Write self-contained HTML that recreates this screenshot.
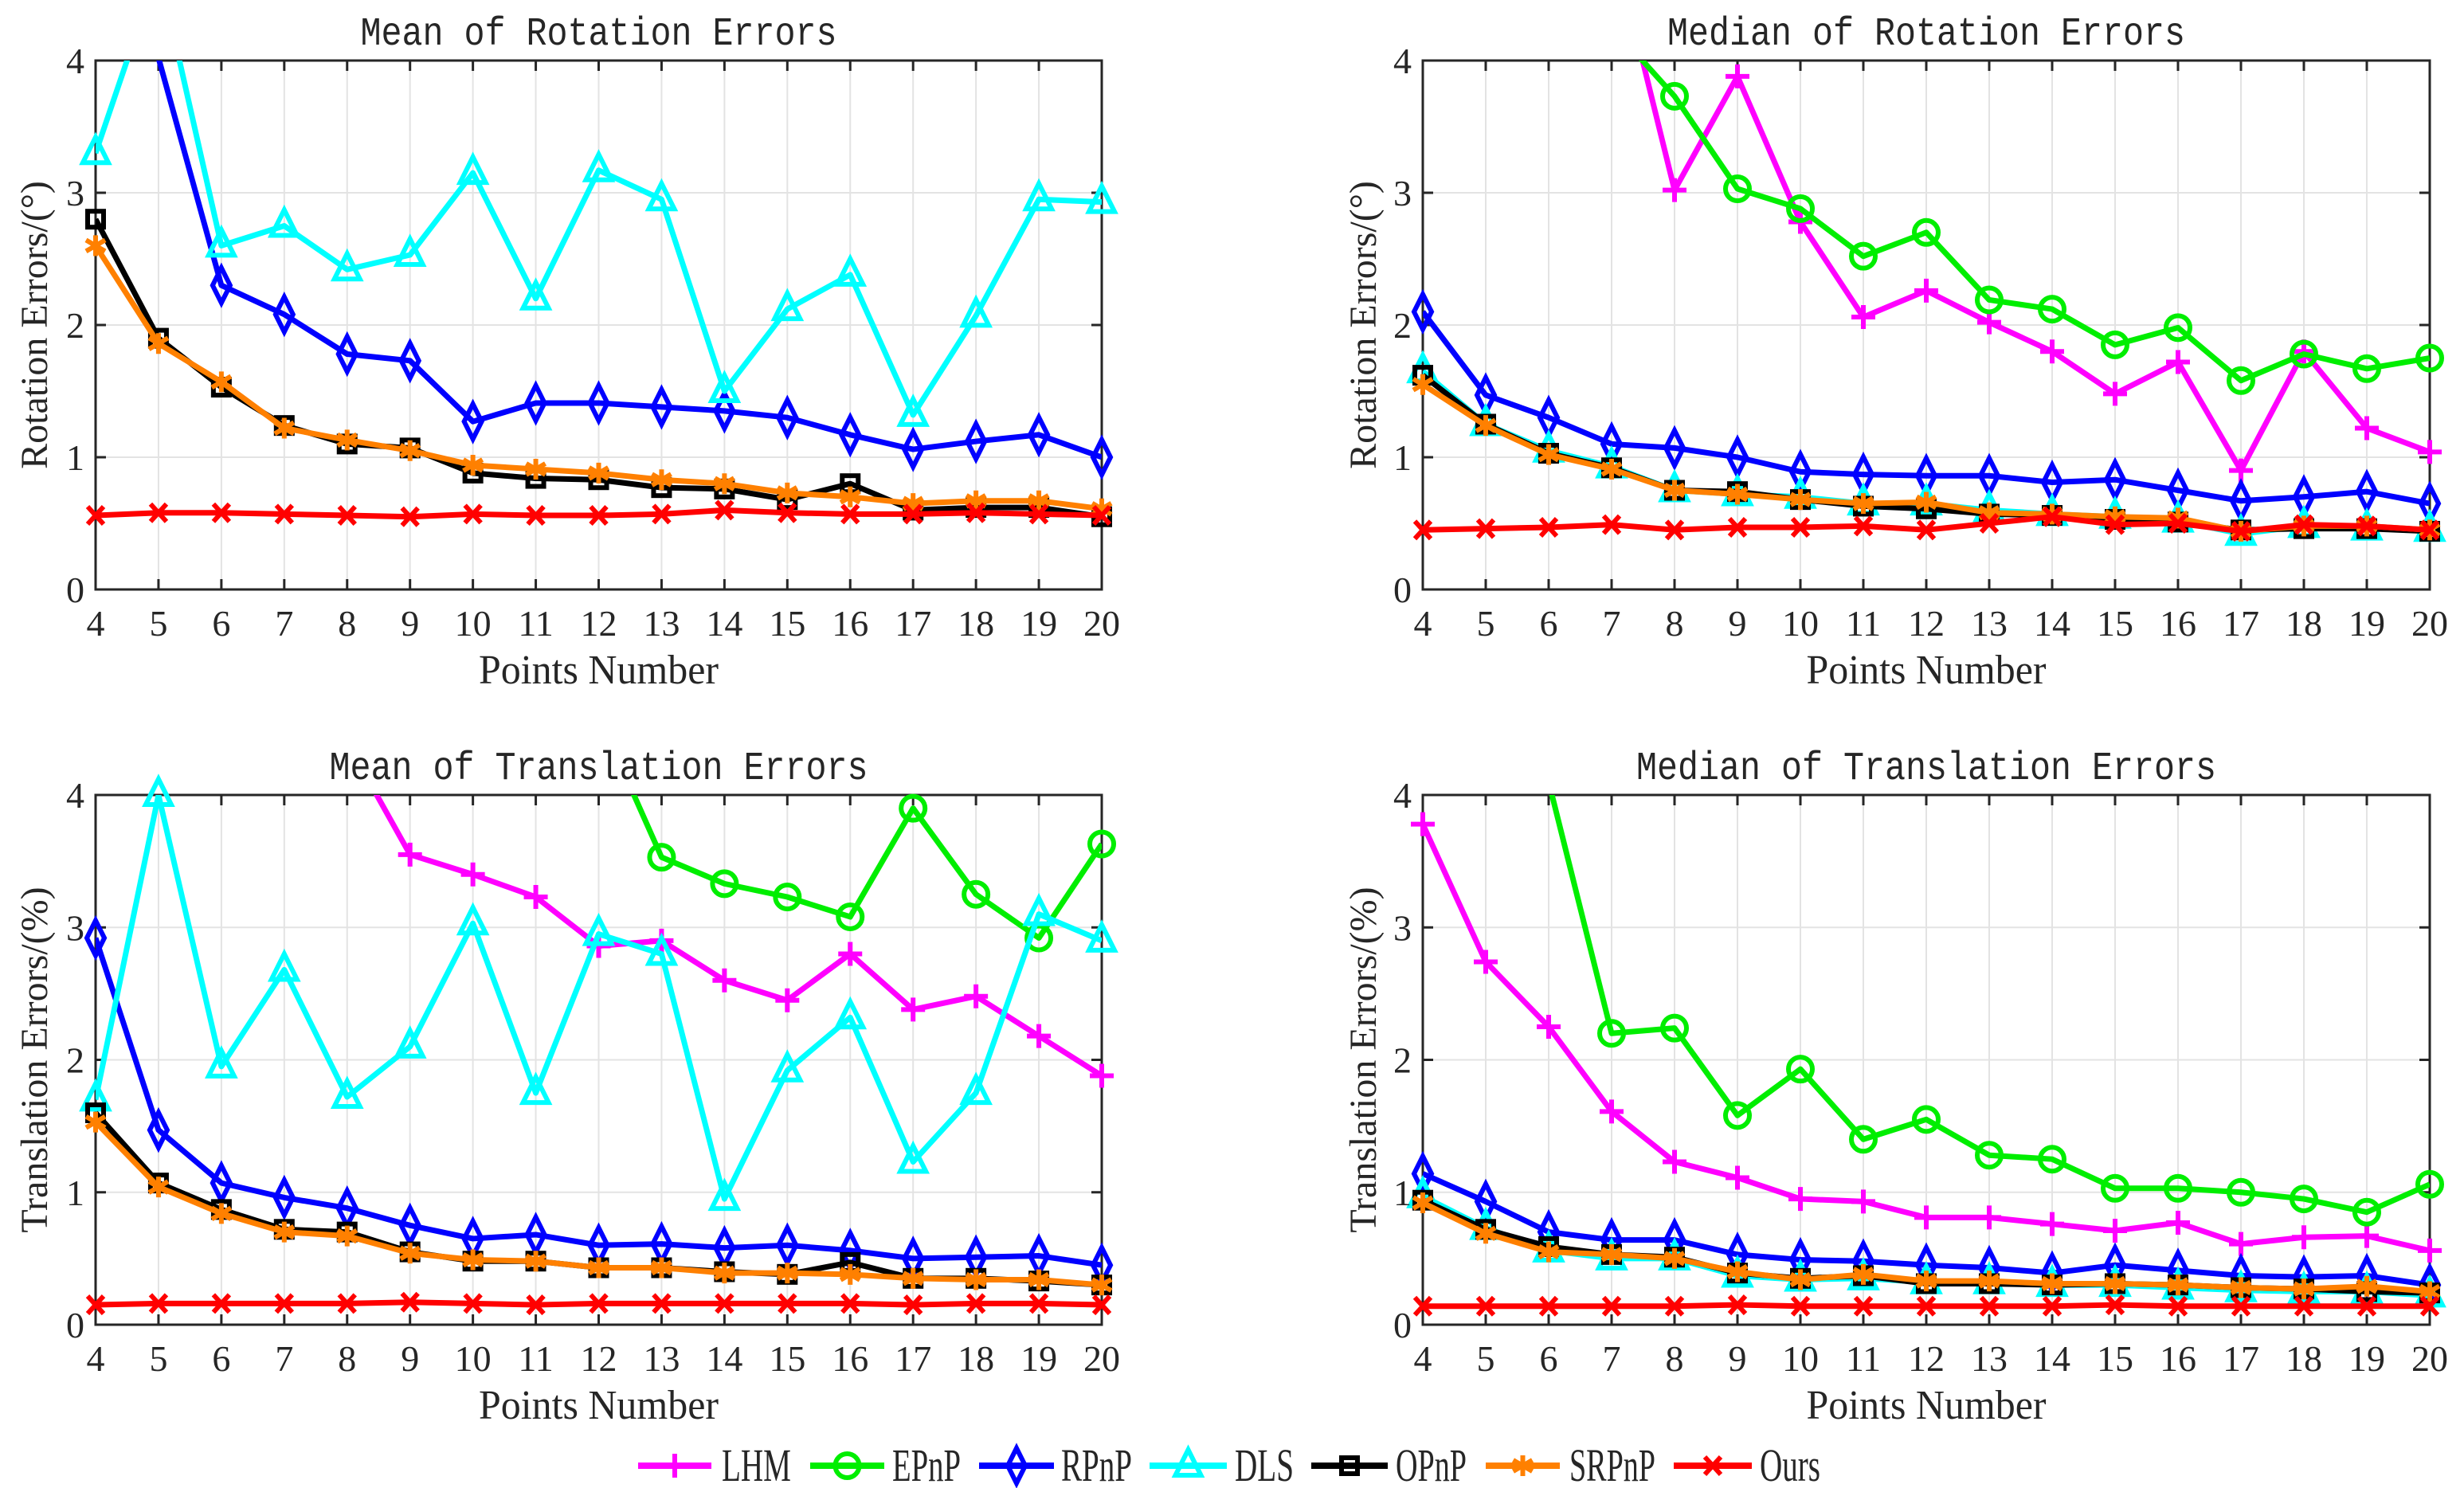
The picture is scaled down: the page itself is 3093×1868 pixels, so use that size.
<!DOCTYPE html>
<html><head><meta charset="utf-8"><title>PnP error plots</title>
<style>html,body{margin:0;padding:0;background:#fff}svg{display:block}
text{font-family:"Liberation Serif",serif;fill:#262626}</style></head>
<body>
<svg id="fig" width="3093" height="1868" viewBox="0 0 3093 1868" xmlns="http://www.w3.org/2000/svg"></svg>
<script>
const xCats=[4,5,6,7,8,9,10,11,12,13,14,15,16,17,18,19,20];
const yTicks=[0,1,2,3,4];
const methods=["LHM","EPnP","RPnP","DLS","OPnP","SRPnP","Ours"];
// Mean of rotation errors
const meanRot_LHM=[10,10,10,10,10,10,10,10,10,10,10,10,10,10,10,10,10];
const meanRot_EPnP=[10,10,10,10,10,10,10,10,10,10,10,10,10,10,10,10,10];
const meanRot_RPnP=[8,4.02,2.3,2.08,1.78,1.73,1.27,1.41,1.41,1.38,1.35,1.3,1.17,1.06,1.12,1.17,1.0];
const meanRot_DLS=[3.3,4.7,2.6,2.75,2.42,2.53,3.15,2.2,3.17,2.95,1.5,2.12,2.38,1.32,2.07,2.95,2.93];
const meanRot_OPnP=[2.8,1.9,1.53,1.24,1.1,1.07,0.88,0.84,0.83,0.77,0.76,0.68,0.8,0.6,0.62,0.62,0.55];
const meanRot_SRPnP=[2.6,1.86,1.57,1.22,1.13,1.05,0.94,0.91,0.88,0.83,0.8,0.73,0.7,0.65,0.67,0.67,0.61];
const meanRot_Ours=[0.56,0.58,0.58,0.57,0.56,0.55,0.57,0.56,0.56,0.57,0.6,0.58,0.57,0.57,0.58,0.57,0.56];
// Median of rotation errors
const medRot_LHM=[10,10,10,4.95,3.02,3.88,2.78,2.06,2.26,2.02,1.8,1.48,1.72,0.9,1.8,1.22,1.04];
const medRot_EPnP=[10,10,10,4.26,3.73,3.03,2.88,2.52,2.7,2.19,2.12,1.85,1.98,1.58,1.78,1.67,1.75];
const medRot_RPnP=[2.1,1.47,1.3,1.1,1.07,1.0,0.89,0.87,0.86,0.86,0.81,0.83,0.75,0.67,0.7,0.74,0.65];
const medRot_DLS=[1.65,1.25,1.05,0.93,0.75,0.72,0.7,0.65,0.65,0.6,0.57,0.55,0.52,0.42,0.48,0.46,0.45];
const medRot_OPnP=[1.62,1.25,1.03,0.92,0.75,0.74,0.68,0.63,0.61,0.57,0.56,0.53,0.51,0.45,0.46,0.46,0.44];
const medRot_SRPnP=[1.55,1.24,1.02,0.91,0.75,0.72,0.68,0.65,0.66,0.58,0.57,0.55,0.54,0.44,0.48,0.48,0.45];
const medRot_Ours=[0.45,0.46,0.47,0.49,0.45,0.47,0.47,0.48,0.45,0.5,0.55,0.49,0.5,0.44,0.49,0.48,0.45];
// Mean of translation errors
const meanTr_LHM=[10,10,10,10,4.4,3.55,3.4,3.23,2.86,2.9,2.6,2.45,2.8,2.38,2.48,2.18,1.88];
const meanTr_EPnP=[10,10,10,10,10,10,10,10,4.6,3.53,3.33,3.23,3.08,3.9,3.25,2.92,3.63];
const meanTr_RPnP=[2.92,1.47,1.07,0.96,0.88,0.75,0.65,0.68,0.6,0.61,0.58,0.6,0.56,0.5,0.51,0.52,0.45];
const meanTr_DLS=[1.7,4.0,1.95,2.68,1.72,2.1,3.03,1.75,2.95,2.8,0.95,1.92,2.32,1.23,1.75,3.1,2.9];
const meanTr_OPnP=[1.6,1.07,0.87,0.72,0.7,0.55,0.48,0.48,0.43,0.43,0.4,0.38,0.47,0.35,0.35,0.33,0.3];
const meanTr_SRPnP=[1.53,1.04,0.84,0.7,0.67,0.54,0.49,0.48,0.43,0.43,0.39,0.39,0.38,0.35,0.34,0.34,0.3];
const meanTr_Ours=[0.15,0.16,0.16,0.16,0.16,0.17,0.16,0.15,0.16,0.16,0.16,0.16,0.16,0.15,0.16,0.16,0.15];
// Median of translation errors
const medTr_LHM=[3.78,2.74,2.25,1.61,1.23,1.11,0.95,0.93,0.81,0.81,0.76,0.71,0.77,0.61,0.66,0.67,0.56];
const medTr_EPnP=[10,10,4.1,2.2,2.24,1.58,1.93,1.4,1.55,1.28,1.25,1.03,1.03,1.0,0.95,0.85,1.06];
const medTr_RPnP=[1.14,0.93,0.7,0.64,0.64,0.53,0.49,0.48,0.45,0.43,0.39,0.45,0.41,0.37,0.36,0.37,0.3];
const medTr_DLS=[0.97,0.73,0.56,0.5,0.5,0.37,0.34,0.35,0.32,0.32,0.3,0.3,0.28,0.26,0.25,0.25,0.22];
const medTr_OPnP=[0.94,0.72,0.59,0.53,0.51,0.39,0.35,0.37,0.31,0.31,0.3,0.31,0.3,0.28,0.27,0.25,0.24];
const medTr_SRPnP=[0.92,0.69,0.55,0.53,0.5,0.4,0.34,0.38,0.33,0.33,0.31,0.31,0.3,0.28,0.27,0.29,0.25];
const medTr_Ours=[0.14,0.14,0.14,0.14,0.14,0.15,0.14,0.14,0.14,0.14,0.14,0.15,0.14,0.14,0.14,0.14,0.14];

const NS="http://www.w3.org/2000/svg";
const svg=document.getElementById('fig');
const colors={LHM:"#ff00ff",EPnP:"#00ee00",RPnP:"#0000ff",DLS:"#00ffff",OPnP:"#000000",SRPnP:"#ff8000",Ours:"#ff0000"};
const markers={LHM:"plus",EPnP:"circle",RPnP:"diamond",DLS:"triangle",OPnP:"square",SRPnP:"star",Ours:"x"};
function mk(tag,attrs,parent){const e=document.createElementNS(NS,tag);for(const k in attrs)e.setAttribute(k,attrs[k]);(parent||svg).appendChild(e);return e;}
function marker(type,cx,cy,col,parent){
  const g=mk('g',{stroke:col,'stroke-width':6,fill:'none'},parent);
  if(type==='plus'){mk('path',{d:`M${cx-15},${cy}H${cx+15}M${cx},${cy-15}V${cy+15}`},g);}
  else if(type==='circle'){mk('circle',{cx:cx,cy:cy,r:15},g);}
  else if(type==='diamond'){mk('path',{d:`M${cx},${cy-22}L${cx+11},${cy}L${cx},${cy+22}L${cx-11},${cy}Z`},g);}
  else if(type==='triangle'){mk('path',{d:`M${cx},${cy-20}L${cx+16},${cy+12}L${cx-16},${cy+12}Z`},g);}
  else if(type==='square'){mk('rect',{x:cx-10,y:cy-10,width:20,height:20},g);}
  else if(type==='star'){mk('path',{d:`M${cx},${cy-13}V${cy+13}M${cx-12},${cy-7}L${cx+12},${cy+7}M${cx-12},${cy+7}L${cx+12},${cy-7}`},g);}
  else if(type==='x'){mk('path',{d:`M${cx-10},${cy-11}L${cx+10},${cy+11}M${cx-10},${cy+11}L${cx+10},${cy-11}`},g);}
  return g;
}
const panels=[
 {id:'mean-rotation',title:'Mean of Rotation Errors',ylab:'Rotation Errors/(°)',x0:120,x1:1383,y0:740,y1:76,tx:44,series:{LHM:meanRot_LHM,EPnP:meanRot_EPnP,RPnP:meanRot_RPnP,DLS:meanRot_DLS,OPnP:meanRot_OPnP,SRPnP:meanRot_SRPnP,Ours:meanRot_Ours}},
 {id:'median-rotation',title:'Median of Rotation Errors',ylab:'Rotation Errors/(°)',x0:1786,x1:3050,y0:740,y1:76,tx:1712,series:{LHM:medRot_LHM,EPnP:medRot_EPnP,RPnP:medRot_RPnP,DLS:medRot_DLS,OPnP:medRot_OPnP,SRPnP:medRot_SRPnP,Ours:medRot_Ours}},
 {id:'mean-translation',title:'Mean of Translation Errors',ylab:'Translation Errors/(%)',x0:120,x1:1383,y0:1663,y1:998,tx:44,series:{LHM:meanTr_LHM,EPnP:meanTr_EPnP,RPnP:meanTr_RPnP,DLS:meanTr_DLS,OPnP:meanTr_OPnP,SRPnP:meanTr_SRPnP,Ours:meanTr_Ours}},
 {id:'median-translation',title:'Median of Translation Errors',ylab:'Translation Errors/(%)',x0:1786,x1:3050,y0:1663,y1:998,tx:1712,series:{LHM:medTr_LHM,EPnP:medTr_EPnP,RPnP:medTr_RPnP,DLS:medTr_DLS,OPnP:medTr_OPnP,SRPnP:medTr_SRPnP,Ours:medTr_Ours}}
];
const defs=mk('defs',{});
panels.forEach((p,pi)=>{
  const X=v=>p.x0+(v-4)/16*(p.x1-p.x0);
  const Y=v=>p.y0+v/4*(p.y1-p.y0);
  const g=mk('g',{});
  
  
  const cp=mk('clipPath',{id:'clip'+pi},defs);
  mk('rect',{x:p.x0,y:p.y1,width:p.x1-p.x0,height:p.y0-p.y1},cp);
  const grid=mk('g',{stroke:'#e3e3e3','stroke-width':2},g);
  
  
  xCats.forEach(c=>mk('line',{x1:X(c),x2:X(c),y1:p.y1,y2:p.y0},grid));
  yTicks.forEach(t=>mk('line',{x1:p.x0,x2:p.x1,y1:Y(t),y2:Y(t)},grid));
  const box=mk('rect',{x:p.x0,y:p.y1,width:p.x1-p.x0,height:p.y0-p.y1,fill:'none',stroke:'#262626','stroke-width':3},g);
  
  
  const tk=mk('g',{stroke:'#262626','stroke-width':3},g);
  xCats.forEach(c=>{mk('line',{x1:X(c),x2:X(c),y1:p.y0,y2:p.y0-13},tk);mk('line',{x1:X(c),x2:X(c),y1:p.y1,y2:p.y1+13},tk);});
  yTicks.forEach(t=>{mk('line',{x1:p.x0,x2:p.x0+13,y1:Y(t),y2:Y(t)},tk);mk('line',{x1:p.x1,x2:p.x1-13,y1:Y(t),y2:Y(t)},tk);});
  const sg=mk('g',{},g);
  methods.forEach(m=>{
    const vals=p.series[m];
    const s=mk('g',{},sg);
    
    
    const pts=vals.map((v,i)=>X(xCats[i])+','+Y(v)).join(' ');
    mk('polyline',{points:pts,fill:'none',stroke:colors[m],'stroke-width':7,'stroke-linejoin':'round','clip-path':`url(#clip${pi})`},s);
    vals.forEach((v,i)=>{ if(v>4.001||v<0) return;
      const mm=marker(markers[m],X(xCats[i]),Y(v),colors[m],s);
      
      });
  });
  xCats.forEach(c=>{const t=mk('text',{x:X(c),y:p.y0+58,'font-size':46,'text-anchor':'middle'},g);t.textContent=c;
    
    });
  yTicks.forEach(v=>{const t=mk('text',{x:p.x0-14,y:Y(v)+16,'font-size':46,'text-anchor':'end'},g);t.textContent=v;
    
    });
  const cx=(p.x0+p.x1)/2, cy=(p.y0+p.y1)/2;
  const ti=mk('text',{x:cx,y:p.y1-20,'font-size':50,'text-anchor':'middle',textLength:p.title.length*26,lengthAdjust:'spacingAndGlyphs',style:'font-family:"Liberation Mono",monospace'},g);
  ti.textContent=p.title;
  
  
  const xl=mk('text',{x:cx,y:p.y0+118,'font-size':52,'text-anchor':'middle',textLength:301,lengthAdjust:'spacingAndGlyphs'},g);
  xl.textContent='Points Number';
  
  
  const yl=mk('text',{x:0,y:0,'font-size':48,'text-anchor':'middle',transform:`translate(${p.tx+15},${cy}) rotate(-90)`},g);
  yl.textContent=p.ylab;
  
  
});
const legX=[[801,893,906],[1017,1110,1120],[1229,1323,1332],[1443,1540,1550],[1646,1742,1752],[1865,1958,1970],[2101,2199,2209]];
const legW=[87,86,89,74,89,108,76];
const ly=1840;
const lg=mk('g',{});


methods.forEach((m,i)=>{
  const e=mk('g',{},lg);
  
  
  mk('line',{x1:legX[i][0],x2:legX[i][1],y1:ly,y2:ly,stroke:colors[m],'stroke-width':8},e);
  marker(markers[m],(legX[i][0]+legX[i][1])/2,ly,colors[m],e);
  const t=mk('text',{x:legX[i][2],y:ly+19,'font-size':58,textLength:legW[i],lengthAdjust:'spacingAndGlyphs'},e);
  t.textContent=m;
});
</script>
</body></html>
